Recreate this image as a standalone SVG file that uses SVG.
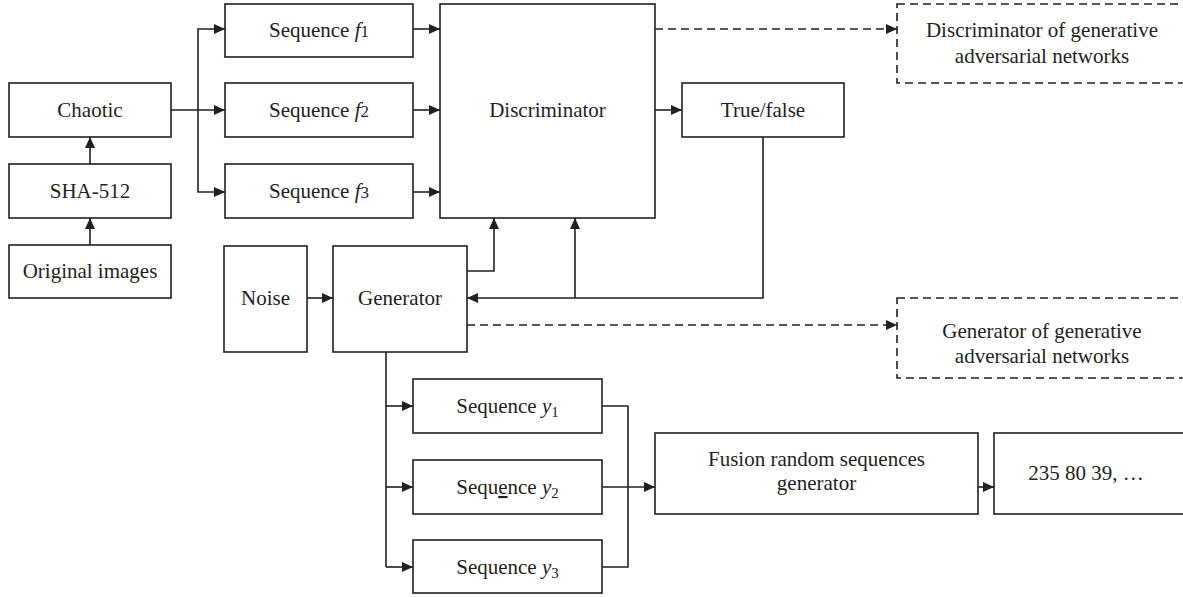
<svg xmlns="http://www.w3.org/2000/svg" width="1183" height="597" viewBox="0 0 1183 597">
<style>
  .box{fill:#fff;stroke:#231f20;stroke-width:1.6}
  .dbox{fill:#fff;stroke:#231f20;stroke-width:1.6;stroke-dasharray:8 5}
  .t{font-family:"Liberation Serif","Times New Roman",serif;font-size:21px;fill:#231f20;text-anchor:middle}
  .c{fill:none;stroke:#231f20;stroke-width:1.6}
  .a{marker-end:url(#ah)}
  .d{stroke-dasharray:8 5}
  .i{font-style:italic}
</style>
<defs>
  <marker id="ah" markerUnits="userSpaceOnUse" markerWidth="12" markerHeight="10" refX="11" refY="5" orient="auto">
    <path d="M0,0 L11,5 L0,10 z" fill="#231f20"/>
  </marker>
</defs>
<rect width="1183" height="597" fill="#fff"/>

<g id="connectors">
  <path class="c a" d="M90,245 V218"/>
  <path class="c a" d="M90,164 V137"/>
  <path class="c a" d="M171,110 H225"/>
  <path class="c a" d="M198,110 V29 H225"/>
  <path class="c a" d="M198,110 V192 H225"/>
  <path class="c a" d="M413,29 H440"/>
  <path class="c a" d="M413,110 H440"/>
  <path class="c a" d="M413,192 H440"/>
  <path class="c a" d="M655,110 H682"/>
  <path class="c a d" d="M655,29 H897"/>
  <path class="c a" d="M763,137 V298 H467"/>
  <path class="c a" d="M575,298 V218"/>
  <path class="c a" d="M467,271 H494 V218"/>
  <path class="c a" d="M307,298 H333"/>
  <path class="c a d" d="M467,325 H897"/>
  <path class="c" d="M386,352 V567"/>
  <path class="c a" d="M386,406 H413"/>
  <path class="c a" d="M386,487 H413"/>
  <path class="c a" d="M386,567 H413"/>
  <path class="c" d="M602,406 H628 V567 H602"/>
  <path class="c a" d="M602,487 H655"/>
  <path class="c a" d="M978,487 H994"/>
</g>

<g id="chaotic"><rect class="box" x="9" y="83" width="162" height="54"/><text class="t" x="90" y="117">Chaotic</text></g>
<g id="sha512"><rect class="box" x="9" y="164" width="162" height="54"/><text class="t" x="90" y="198">SHA-512</text></g>
<g id="original"><rect class="box" x="9" y="245" width="162" height="53"/><text class="t" x="90" y="278">Original images</text></g>

<g id="seqf1"><rect class="box" x="225" y="4" width="188" height="53"/><text class="t" x="319" y="37">Sequence <tspan class="i">f</tspan><tspan font-size="17">1</tspan></text></g>
<g id="seqf2"><rect class="box" x="225" y="83" width="188" height="54"/><text class="t" x="319" y="117">Sequence <tspan class="i">f</tspan><tspan font-size="17">2</tspan></text></g>
<g id="seqf3"><rect class="box" x="225" y="164" width="188" height="54"/><text class="t" x="319" y="198">Sequence <tspan class="i">f</tspan><tspan font-size="17">3</tspan></text></g>

<g id="discriminator"><rect class="box" x="440" y="4" width="215" height="214"/><text class="t" x="547.5" y="117">Discriminator</text></g>
<g id="truefalse"><rect class="box" x="682" y="83" width="162" height="54"/><text class="t" x="763" y="117">True/false</text></g>

<g id="dgan"><rect class="dbox" x="897" y="4" width="300" height="79"/>
  <text class="t" x="1042" y="37">Discriminator of generative</text>
  <text class="t" x="1042" y="63">adversarial networks</text></g>

<g id="noise"><rect class="box" x="224" y="246" width="83" height="106"/><text class="t" x="265.5" y="305">Noise</text></g>
<g id="generator"><rect class="box" x="333" y="246" width="134" height="106"/><text class="t" x="400" y="305">Generator</text></g>

<g id="ggan"><rect class="dbox" x="897" y="298" width="300" height="80"/>
  <text class="t" x="1042" y="338">Generator of generative</text>
  <text class="t" x="1042" y="363">adversarial networks</text></g>

<g id="seqy1"><rect class="box" x="413" y="379" width="189" height="54"/><text class="t" x="507.5" y="413">Sequence <tspan class="i">y</tspan><tspan font-size="15" dy="4">1</tspan></text></g>
<g id="seqy2"><rect class="box" x="413" y="460" width="189" height="54"/><text class="t" x="507.5" y="494">Sequ<tspan text-decoration="underline">e</tspan>nce <tspan class="i">y</tspan><tspan font-size="15" dy="4">2</tspan></text></g>
<g id="seqy3"><rect class="box" x="413" y="540" width="189" height="53"/><text class="t" x="507.5" y="574">Sequence <tspan class="i">y</tspan><tspan font-size="15" dy="4">3</tspan></text></g>

<g id="fusion"><rect class="box" x="655" y="433" width="323" height="81"/>
  <text class="t" x="816.5" y="466">Fusion random sequences</text>
  <text class="t" x="816.5" y="490">generator</text></g>

<g id="output"><rect class="box" x="994" y="433" width="200" height="81"/><text class="t" x="1086" y="480">235 80 39, …</text></g>
</svg>
